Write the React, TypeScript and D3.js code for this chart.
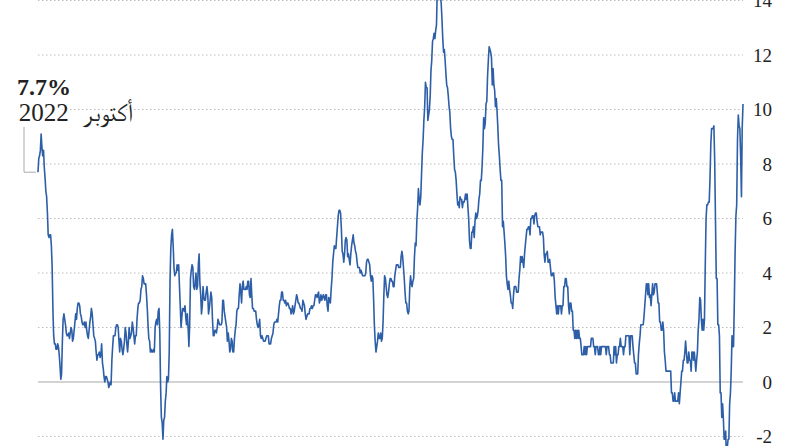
import React from "react";
import * as d3 from "d3";

// US CPI year-over-year change (%), monthly, Jan..Dec
const startYear = 1948;
const cpi1948 = [10.2, 9.3, 6.8, 8.3, 9.3, 9.4, 9.8, 8.9, 6.5, 6.1, 4.8, 3.0];
const cpi1949 = [1.3, 1.3, 1.7, 0.4, -0.4, -0.8, -2.1, -2.1, -2.4, -2.9, -1.8, -2.1];
const cpi1950 = [-2.1, -1.3, -0.8, -1.3, -0.4, -0.4, 1.7, 2.1, 2.1, 3.8, 3.8, 5.9];
const cpi1951 = [8.1, 9.4, 9.3, 9.3, 9.3, 8.7, 7.5, 6.6, 6.6, 6.5, 6.5, 6.0];
const cpi1952 = [4.3, 2.3, 1.9, 2.3, 1.9, 2.3, 3.0, 3.1, 2.3, 1.9, 1.1, 0.8];
const cpi1953 = [0.4, 0.8, 1.1, 0.8, 1.1, 1.1, 0.4, 0.8, 0.8, 1.1, 0.7, 0.7];
const cpi1954 = [1.1, 1.5, 1.1, 0.8, 0.8, 0.4, 0.4, 0.0, -0.4, -0.8, -0.4, -0.7];
const cpi1955 = [-0.7, -0.7, -0.7, -0.4, -0.7, -0.7, -0.4, -0.4, 0.4, 0.4, 0.4, 0.4];
const cpi1956 = [0.4, 0.4, 0.4, 0.8, 1.1, 1.9, 2.2, 1.9, 1.9, 2.2, 2.2, 2.9];
const cpi1957 = [2.9, 3.3, 3.6, 3.6, 3.6, 3.3, 3.2, 3.6, 3.2, 2.8, 3.2, 3.1];
const cpi1958 = [3.6, 3.2, 3.6, 3.6, 3.2, 2.8, 2.4, 2.1, 2.1, 2.1, 2.1, 1.7];
const cpi1959 = [1.4, 1.0, 0.3, 0.3, 0.3, 0.7, 0.7, 1.0, 1.3, 1.7, 1.7, 1.7];
const cpi1960 = [1.0, 1.7, 1.7, 1.7, 1.7, 1.7, 1.3, 1.3, 1.0, 1.3, 1.3, 1.3];
const cpi1961 = [1.6, 1.3, 1.3, 1.0, 1.0, 0.7, 1.3, 1.0, 1.3, 0.7, 0.7, 0.7];
const cpi1962 = [0.7, 1.0, 1.0, 1.3, 1.3, 1.3, 1.0, 1.3, 1.3, 1.3, 1.3, 1.3];
const cpi1963 = [1.3, 1.0, 1.3, 1.0, 1.0, 1.3, 1.3, 1.3, 1.0, 1.3, 1.3, 1.6];
const cpi1964 = [1.6, 1.6, 1.3, 1.3, 1.3, 1.3, 1.3, 1.0, 1.3, 1.0, 1.3, 1.0];
const cpi1965 = [1.0, 1.0, 1.3, 1.6, 1.6, 1.9, 1.6, 1.9, 1.6, 1.9, 1.6, 1.9];
const cpi1966 = [1.9, 2.6, 2.6, 2.9, 2.9, 2.5, 2.8, 3.5, 3.5, 3.8, 3.8, 3.5];
const cpi1967 = [3.5, 2.8, 2.8, 2.5, 2.8, 2.8, 2.8, 2.5, 2.8, 2.5, 2.8, 3.1];
const cpi1968 = [3.7, 4.0, 4.0, 3.9, 3.9, 4.2, 4.5, 4.4, 4.4, 4.8, 4.7, 4.7];
const cpi1969 = [4.4, 4.7, 5.3, 5.5, 5.5, 5.5, 5.4, 5.7, 5.7, 5.7, 5.9, 6.2];
const cpi1970 = [6.2, 6.1, 5.8, 6.1, 6.1, 6.0, 6.0, 5.4, 5.7, 5.7, 5.6, 5.6];
const cpi1971 = [5.3, 5.0, 4.7, 4.2, 4.4, 4.6, 4.4, 4.6, 4.1, 3.8, 3.3, 3.3];
const cpi1972 = [3.3, 3.5, 3.5, 3.5, 3.2, 2.7, 2.9, 2.9, 3.2, 3.4, 3.7, 3.4];
const cpi1973 = [3.6, 3.9, 4.6, 5.1, 5.5, 5.9, 5.7, 7.4, 7.4, 7.8, 8.3, 8.7];
const cpi1974 = [9.4, 10.0, 10.4, 10.1, 10.7, 10.9, 11.5, 10.9, 11.9, 12.1, 12.2, 12.3];
const cpi1975 = [11.8, 11.2, 10.3, 10.2, 9.5, 9.3, 9.7, 8.6, 7.9, 7.4, 7.4, 6.9];
const cpi1976 = [6.7, 6.3, 6.1, 6.0, 6.2, 5.9, 5.3, 5.7, 5.5, 5.5, 4.9, 4.9];
const cpi1977 = [5.2, 6.0, 6.4, 6.9, 6.7, 6.9, 6.7, 6.6, 6.6, 6.4, 6.7, 6.7];
const cpi1978 = [6.8, 6.4, 6.6, 6.5, 6.9, 7.4, 7.7, 7.8, 8.3, 8.9, 8.9, 9.0];
const cpi1979 = [9.3, 9.9, 10.1, 10.5, 10.8, 10.9, 11.3, 11.8, 12.2, 12.1, 12.6, 13.3];
const cpi1980 = [13.9, 14.2, 14.8, 14.7, 14.4, 14.4, 13.1, 12.9, 12.6, 12.8, 12.6, 12.5];
const cpi1981 = [11.8, 11.4, 10.5, 10.0, 9.8, 9.6, 10.8, 10.8, 11.0, 10.1, 9.6, 8.9];
const cpi1982 = [8.4, 7.6, 6.8, 6.5, 6.7, 7.1, 6.4, 5.9, 5.0, 5.1, 4.6, 3.8];
const cpi1983 = [3.7, 3.5, 3.6, 3.9, 3.5, 2.6, 2.5, 2.6, 2.9, 2.9, 3.3, 3.8];
const cpi1984 = [4.2, 4.6, 4.8, 4.6, 4.2, 4.2, 4.2, 4.3, 4.3, 4.3, 4.1, 3.9];
const cpi1985 = [3.5, 3.5, 3.7, 3.7, 3.8, 3.8, 3.6, 3.3, 3.1, 3.2, 3.5, 3.8];
const cpi1986 = [3.9, 3.1, 2.2, 1.6, 1.5, 1.8, 1.6, 1.6, 1.8, 1.5, 1.3, 1.1];
const cpi1987 = [1.5, 2.1, 3.0, 3.8, 3.9, 3.7, 3.9, 4.3, 4.4, 4.5, 4.5, 4.4];
const cpi1988 = [4.0, 3.9, 3.9, 3.9, 3.9, 4.0, 4.1, 4.0, 4.2, 4.2, 4.2, 4.4];
const cpi1989 = [4.7, 4.8, 5.0, 5.1, 5.4, 5.2, 5.0, 4.7, 4.3, 4.5, 4.7, 4.6];
const cpi1990 = [5.2, 5.3, 5.2, 4.7, 4.4, 4.7, 4.8, 5.6, 6.2, 6.3, 6.3, 6.1];
const cpi1991 = [5.7, 5.3, 4.9, 4.9, 5.0, 4.7, 4.4, 3.8, 3.4, 2.9, 3.0, 3.1];
const cpi1992 = [2.6, 2.8, 3.2, 3.2, 3.0, 3.1, 3.2, 3.1, 3.0, 3.2, 3.0, 2.9];
const cpi1993 = [3.3, 3.2, 3.1, 3.2, 3.2, 3.0, 2.8, 2.8, 2.7, 2.8, 2.7, 2.7];
const cpi1994 = [2.5, 2.5, 2.5, 2.4, 2.3, 2.5, 2.8, 2.9, 3.0, 2.6, 2.7, 2.7];
const cpi1995 = [2.8, 2.9, 2.9, 3.1, 3.2, 3.0, 2.8, 2.6, 2.5, 2.8, 2.6, 2.5];
const cpi1996 = [2.7, 2.7, 2.8, 2.9, 2.9, 2.8, 3.0, 2.9, 3.0, 3.0, 3.3, 3.3];
const cpi1997 = [3.0, 3.0, 2.8, 2.5, 2.2, 2.3, 2.2, 2.2, 2.2, 2.1, 1.8, 1.7];
const cpi1998 = [1.6, 1.4, 1.4, 1.4, 1.7, 1.7, 1.7, 1.6, 1.5, 1.5, 1.5, 1.6];
const cpi1999 = [1.7, 1.6, 1.7, 2.3, 2.1, 2.0, 2.1, 2.3, 2.6, 2.6, 2.6, 2.7];
const cpi2000 = [2.7, 3.2, 3.8, 3.1, 3.2, 3.7, 3.7, 3.4, 3.5, 3.4, 3.4, 3.4];
const cpi2001 = [3.7, 3.5, 2.9, 3.3, 3.6, 3.2, 2.7, 2.7, 2.6, 2.1, 1.9, 1.6];
const cpi2002 = [1.1, 1.1, 1.5, 1.6, 1.2, 1.1, 1.5, 1.8, 1.5, 2.0, 2.2, 2.4];
const cpi2003 = [2.6, 3.0, 3.0, 2.2, 2.1, 2.1, 2.1, 2.2, 2.3, 2.0, 1.8, 1.9];
const cpi2004 = [1.9, 1.7, 1.7, 2.3, 3.1, 3.3, 3.0, 2.7, 2.5, 3.2, 3.5, 3.3];
const cpi2005 = [3.0, 3.0, 3.1, 3.5, 2.8, 2.5, 3.2, 3.6, 4.7, 4.3, 3.5, 3.4];
const cpi2006 = [4.0, 3.6, 3.4, 3.5, 4.2, 4.3, 4.1, 3.8, 2.1, 1.3, 2.0, 2.5];
const cpi2007 = [2.1, 2.4, 2.8, 2.6, 2.7, 2.7, 2.4, 2.0, 2.8, 3.5, 4.3, 4.1];
const cpi2008 = [4.3, 4.0, 4.0, 3.9, 4.2, 5.0, 5.6, 5.4, 4.9, 3.7, 1.1, 0.1];
const cpi2009 = [0.0, 0.2, -0.4, -0.7, -1.3, -1.4, -2.1, -1.5, -1.3, -0.2, 1.8, 2.7];
const cpi2010 = [2.6, 2.1, 2.3, 2.2, 2.0, 1.1, 1.2, 1.1, 1.1, 1.2, 1.1, 1.5];
const cpi2011 = [1.6, 2.1, 2.7, 3.2, 3.6, 3.6, 3.6, 3.8, 3.9, 3.5, 3.4, 3.0];
const cpi2012 = [2.9, 2.9, 2.7, 2.3, 1.7, 1.7, 1.4, 1.7, 2.0, 2.2, 1.8, 1.7];
const cpi2013 = [1.6, 2.0, 1.5, 1.1, 1.4, 1.8, 2.0, 1.5, 1.2, 1.0, 1.2, 1.5];
const cpi2014 = [1.6, 1.1, 1.5, 2.0, 2.1, 2.1, 2.0, 1.7, 1.7, 1.7, 1.3, 0.8];
const cpi2015 = [-0.1, 0.0, -0.1, -0.2, 0.0, 0.1, 0.2, 0.2, 0.0, 0.2, 0.5, 0.7];
const cpi2016 = [1.4, 1.0, 0.9, 1.1, 1.0, 1.0, 0.8, 1.1, 1.5, 1.6, 1.7, 2.1];
const cpi2017 = [2.5, 2.7, 2.4, 2.2, 1.9, 1.6, 1.7, 1.9, 2.2, 2.0, 2.2, 2.1];
const cpi2018 = [2.1, 2.2, 2.4, 2.5, 2.8, 2.9, 2.9, 2.7, 2.3, 2.5, 2.2, 1.9];
const cpi2019 = [1.6, 1.5, 1.9, 2.0, 1.8, 1.6, 1.8, 1.7, 1.7, 1.8, 2.1, 2.3];
const cpi2020 = [2.5, 2.3, 1.5, 0.3, 0.1, 0.6, 1.0, 1.3, 1.4, 1.2, 1.2, 1.4];
const cpi2021 = [1.4, 1.7, 2.6, 4.2, 5.0, 5.4, 5.4, 5.3, 5.4, 6.2, 6.8, 7.0];
const cpi2022 = [7.5, 7.9, 8.5, 8.3, 8.6, 9.1, 8.5, 8.3, 8.2, 7.7];

const yearlySeries = [
  cpi1948, cpi1949, cpi1950, cpi1951, cpi1952, cpi1953, cpi1954, cpi1955, cpi1956, cpi1957,
  cpi1958, cpi1959, cpi1960, cpi1961, cpi1962, cpi1963, cpi1964, cpi1965, cpi1966, cpi1967,
  cpi1968, cpi1969, cpi1970, cpi1971, cpi1972, cpi1973, cpi1974, cpi1975, cpi1976, cpi1977,
  cpi1978, cpi1979, cpi1980, cpi1981, cpi1982, cpi1983, cpi1984, cpi1985, cpi1986, cpi1987,
  cpi1988, cpi1989, cpi1990, cpi1991, cpi1992, cpi1993, cpi1994, cpi1995, cpi1996, cpi1997,
  cpi1998, cpi1999, cpi2000, cpi2001, cpi2002, cpi2003, cpi2004, cpi2005, cpi2006, cpi2007,
  cpi2008, cpi2009, cpi2010, cpi2011, cpi2012, cpi2013, cpi2014, cpi2015, cpi2016, cpi2017,
  cpi2018, cpi2019, cpi2020, cpi2021, cpi2022,
];

const yTicks = [-2, 0, 2, 4, 6, 8, 10, 12, 14];
const annotationValue = "7.7%";
const annotationDate = "أكتوبر 2022";

type Pt = { date: Date; value: number };
const data: Pt[] = [];
yearlySeries.forEach((vals, yi) => {
  vals.forEach((v, m) => data.push({ date: new Date(startYear + yi, m, 1), value: v }));
});

const W = 792;
const H = 446;
const serif = "'Liberation Serif', FreeSerif, 'DejaVu Serif', serif";

export default function App() {
  React.useEffect(() => {
    document.body.style.margin = "0";
  }, []);

  const first = data[0];
  const last = data[data.length - 1];

  const x = d3.scaleTime().domain([first.date, last.date]).range([743, 38]);
  const y = d3.scaleLinear().domain([0, 14]).range([382, 0.5]);

  const line = d3
    .line<Pt>()
    .x((d) => x(d.date))
    .y((d) => y(d.value))
    .curve(d3.curveLinear);

  const gridLeft = 38;
  const gridRight = 743;
  const tStyle = { fontFamily: serif };

  return (
    <svg width={W} height={H} style={{ display: "block" }}>
      {yTicks.map((t) => (
        <g key={t}>
          {t === 0 ? (
            <line x1={gridLeft} x2={gridRight} y1={y(t)} y2={y(t)} stroke="#c4c4c4" strokeWidth={1.3} />
          ) : (
            <line
              x1={gridLeft}
              x2={gridRight}
              y1={y(t)}
              y2={y(t)}
              stroke="#bdbdbd"
              strokeWidth={1}
              strokeDasharray="1.5,2.5"
            />
          )}
          <text x={772} y={y(t)} dy="0.35em" textAnchor="end" fontSize={19} fill="#222" style={tStyle}>
            {t}
          </text>
        </g>
      ))}

      <path d={line(data) || ""} fill="none" stroke="#2d5ea8" strokeWidth={1.6} strokeLinejoin="round" />

      {/* annotation leader */}
      <polyline
        points={`24,127 24,${y(last.value)} 36,${y(last.value)}`}
        fill="none"
        stroke="#aaaaaa"
        strokeWidth={1}
      />
      <text
        x={17}
        y={95}
        fontSize={24}
        fontWeight="bold"
        fill="#222"
        stroke="#fff"
        strokeWidth={4}
        paintOrder="stroke"
        style={tStyle}
      >
        {annotationValue}
      </text>
      <text
        x={133}
        y={121}
        fontSize={25}
        fill="#222"
        direction="rtl"
        textAnchor="start"
        stroke="#fff"
        strokeWidth={4}
        paintOrder="stroke"
        style={{ ...tStyle, wordSpacing: "8px" }}
      >
        {annotationDate}
      </text>
    </svg>
  );
}
